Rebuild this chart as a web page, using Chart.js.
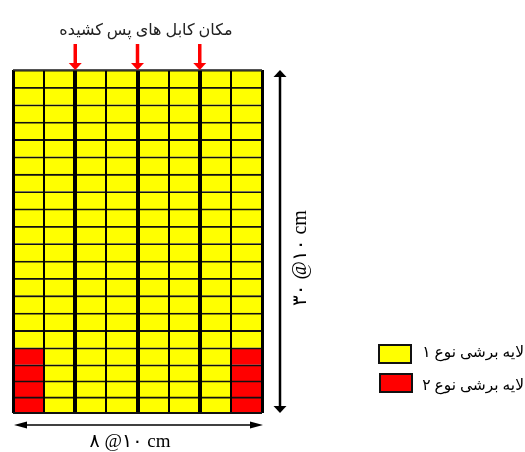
<!DOCTYPE html>
<html lang="fa"><head><meta charset="utf-8">
<style>html,body{margin:0;padding:0;background:#fff}#w{width:525px;height:452px;position:relative}</style>
<script src="https://cdn.jsdelivr.net/npm/chart.js@4"></script></head>
<body><div id="w"><canvas id="c" width="525" height="452"></canvas></div>
<script>
const columnLabels = ['1','2','3','4','5','6','7','8'];
const rowThickness = [16,16,16,17,17.3,17.3,17.3,17.3,17.3,17.3,17.3,17.3,17.3,17.3,17.3,17.3,17.3,17.3,17.3,17.3];
const rowRedEdges  = [1,1,1,1,0,0,0,0,0,0,0,0,0,0,0,0,0,0,0,0];
const cableColumns = [2,4,6];
const titleText = 'مکان کابل های پس کشیده';
const widthLabel = '۸ @۱۰ cm';
const heightLabel = '۳۰ @۱۰ cm';
const legendLabels = ['لایه برشی نوع ۱','لایه برشی نوع ۲'];
const colours = ['#ffff00','#ff0000'];
const FONT = '"Liberation Serif","DejaVu Serif","DejaVu Sans",serif';

function arrowHead(g,x,y,dx,dy,len,half){
  g.beginPath();g.moveTo(x,y);
  g.lineTo(x-dx*len-dy*half,y-dy*len-dx*half);
  g.lineTo(x-dx*len+dy*half,y-dy*len+dx*half);
  g.closePath();g.fill();
}
const annotate = {id:'annotate',afterDraw(ch){
  const g=ch.ctx,a=ch.chartArea,xs=ch.scales.x;
  const w=(xs.getPixelForValue(1)-xs.getPixelForValue(0));
  g.save();
  g.textBaseline='middle';
  // top and bottom outline of the grid
  g.fillStyle='#555';g.fillRect(a.left,a.top-1,a.right-a.left,1.5);
  g.fillStyle='#111';g.fillRect(a.left,a.bottom-1,a.right-a.left,2);
  // title
  g.fillStyle='#222';g.font='16px '+FONT;g.textAlign='center';
  g.fillText(titleText,146,31);
  // cable arrows
  g.strokeStyle=g.fillStyle='#ff0000';g.lineWidth=3.5;
  cableColumns.forEach(c=>{
    const x=xs.getPixelForValue(c)-w/2;
    g.beginPath();g.moveTo(x,a.top-26);g.lineTo(x,a.top-6);g.stroke();
    arrowHead(g,x,a.top,0,1,7,6.5);
  });
  // dimension arrows
  g.strokeStyle=g.fillStyle='#000';g.lineWidth=2.5;
  const vx=a.right+18;
  g.beginPath();g.moveTo(vx,a.top+4);g.lineTo(vx,a.bottom-4);g.stroke();
  arrowHead(g,vx,a.top,0,-1,7,6.5);arrowHead(g,vx,a.bottom,0,1,7,6.5);
  const hy=a.bottom+12;
  g.lineWidth=1.5;
  g.beginPath();g.moveTo(a.left+5,hy);g.lineTo(a.right-5,hy);g.stroke();
  arrowHead(g,a.left+1,hy,-1,0,13,3.5);arrowHead(g,a.right+1,hy,1,0,13,3.5);
  // dimension labels
  g.fillStyle='#000';g.font='19px '+FONT;g.textAlign='center';
  g.fillText(widthLabel,130,442);
  g.save();g.translate(a.right+39,a.top+188);g.rotate(-Math.PI/2);g.font='20px '+FONT;g.fillText(heightLabel,0,0);g.restore();
  // legend
  const sw=[[379,345],[380,374]], ty=[353,386];
  legendLabels.forEach((t,i)=>{
    g.fillStyle=colours[i];g.strokeStyle='#111';g.lineWidth=2;
    g.fillRect(sw[i][0],sw[i][1],32,18);g.strokeRect(sw[i][0],sw[i][1],32,18);
    g.fillStyle='#000';g.font='15.5px '+FONT;
    g.direction='rtl';g.textAlign='right';
    g.fillText(t,524,ty[i]);g.direction='ltr';
  });
  g.restore();
}};
new Chart(document.getElementById('c'),{
  type:'bar',
  data:{labels:columnLabels,datasets:rowThickness.map((v,r)=>({
    label:'row '+(r+1),
    data:columnLabels.map(()=>v),
    backgroundColor:columnLabels.map((_,c)=>rowRedEdges[r]&&(c===0||c===7)?colours[1]:colours[0]),
    borderColor:'#111',borderWidth:{top:1.8,bottom:0,left:0,right:0},
    categoryPercentage:1,barPercentage:1
  }))},
  options:{
    responsive:false,animation:false,
    layout:{padding:{left:13,right:263,top:70,bottom:39}},
    plugins:{legend:{display:false},tooltip:{enabled:false},title:{display:false}},
    scales:{
      x:{stacked:true,offset:true,
        ticks:{display:false},border:{display:false},
        grid:{offset:true,z:1,drawTicks:false,color:'#000',
          lineWidth:c=>{
            if(c.index===undefined||c.index===0)return 3;
            return cableColumns.includes(c.index)?4:2;}}},
      y:{stacked:true,display:false,min:0,max:rowThickness.reduce((s,v)=>s+v,0)}
    }
  },
  plugins:[annotate]
});
</script></body></html>
